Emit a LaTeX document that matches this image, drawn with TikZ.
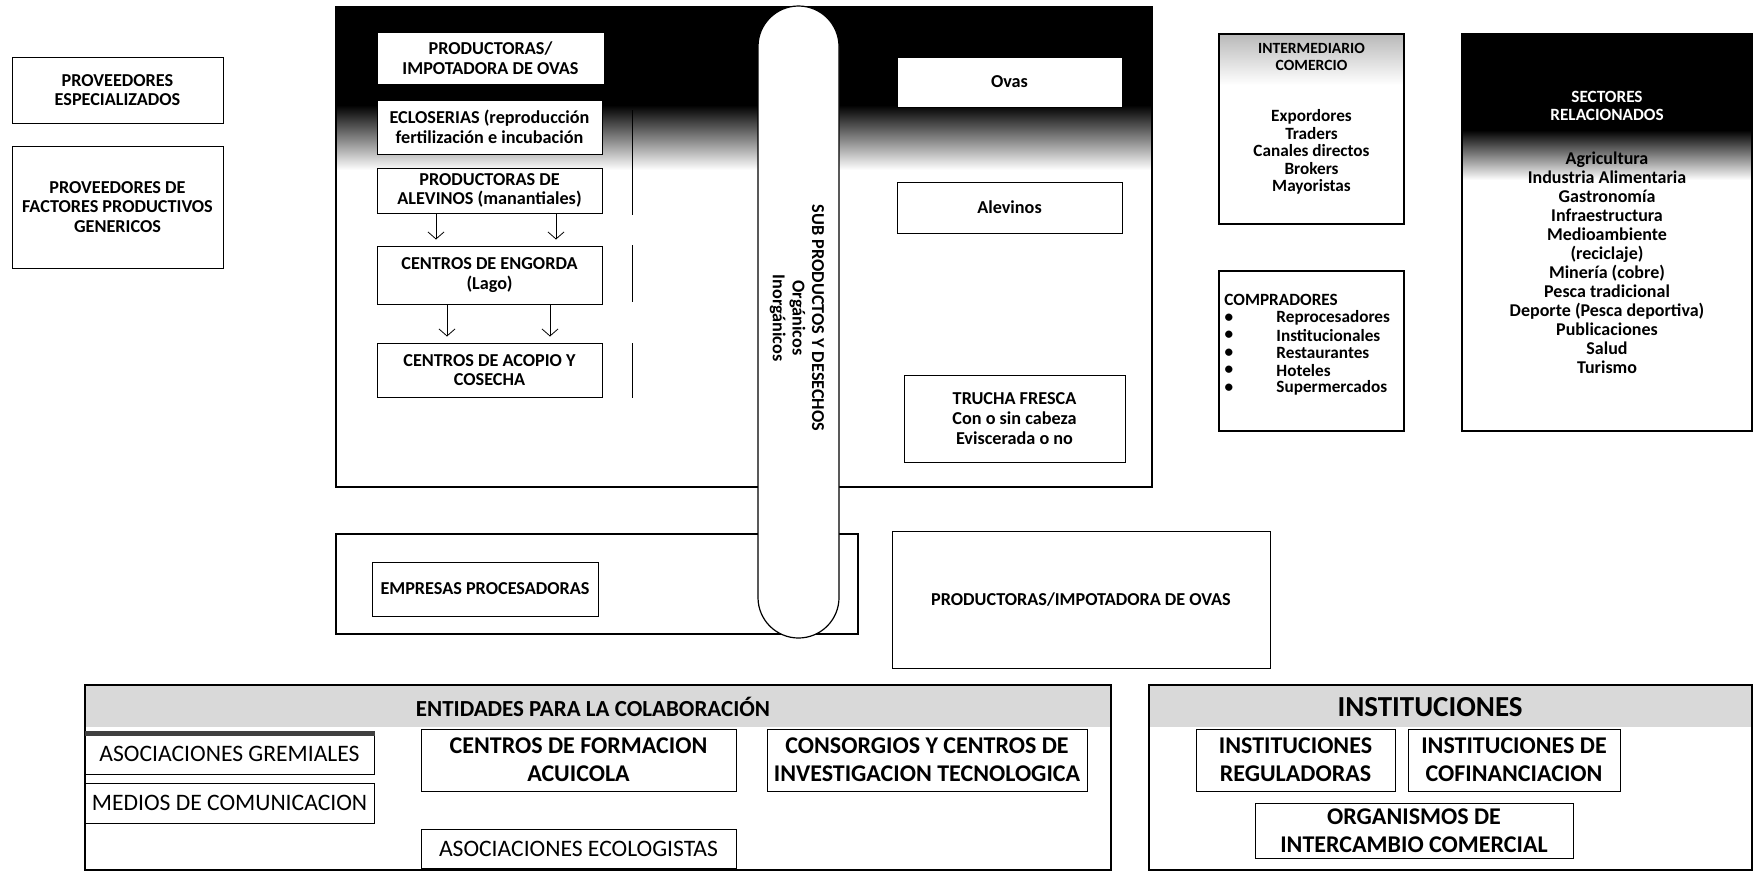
\documentclass[tikz,border=0pt]{standalone}
\usepackage{fontspec}
\setmainfont{Carlito}
\usetikzlibrary{arrows.meta}
\newcommand\fntT{\fontsize{9.1}{9.8}\selectfont\bfseries}
\newcommand\fntL{\fontsize{8.6}{8.75}\selectfont\bfseries}
\newcommand\fntI{\fontsize{7.8}{8.2}\selectfont\bfseries}
\newcommand\fntS{\fontsize{9}{9.5}\selectfont\bfseries}
\newcommand\fntB{\fontsize{12}{14}\selectfont\bfseries}
\newcommand\fntR{\fontsize{11.8}{14}\selectfont}
\newcommand\fntH{\fontsize{14.5}{16}\selectfont\bfseries}
\newcommand\fntE{\fontsize{11.5}{13}\selectfont\bfseries}
\begin{document}
\begin{tikzpicture}[x=0.5pt,y=-0.5pt,
  box/.style={draw, line width=0.5pt, fill=white, inner sep=0pt, align=center},
  frame/.style={draw, line width=0.6pt, inner sep=0pt},
  arr/.style={-{Straight Barb[length=3.5pt,width=8pt]}, line width=0.4pt, shorten >=3pt},
  lbl/.style={inner sep=0pt, align=center},
]
\useasboundingbox (0,0) rectangle (1754,874);
\fill[white] (0,0) rectangle (1754,874);

% proveedores
\node[box, font=\fntT, minimum width=105.5pt, minimum height=33pt] (pe) at (117.5,90) {PROVEEDORES\\ESPECIALIZADOS};
\node[box, font=\fntT, minimum width=105.5pt, minimum height=61pt] (pf) at (117.5,207) {PROVEEDORES DE\\FACTORES PRODUCTIVOS\\GENERICOS};

% main block
\fill[black] (336,7) rectangle (1152,105);
\shade[top color=black, bottom color=white] (336,105) rectangle (1152,170);
\node[frame, minimum width=408pt, minimum height=240pt] (main) at (744,247) {};

\node[box, font=\fntT, minimum width=113.5pt, minimum height=26pt] (povas) at (490.5,58) {PRODUCTORAS/\\IMPOTADORA DE OVAS};
\node[box, font=\fntT, minimum width=112.5pt, minimum height=27pt] (eclo) at (489.5,127) {ECLOSERIAS (reproducción\\fertilización e incubación};
\node[box, font=\fntT, minimum width=112.5pt, minimum height=22.5pt] (palev) at (489.5,190.5) {PRODUCTORAS DE\\ALEVINOS (manantiales)};
\node[box, font=\fntT, minimum width=112.5pt, minimum height=29pt] (eng) at (489.5,275) {CENTROS DE ENGORDA\\(Lago)};
\node[box, font=\fntT, minimum width=112.5pt, minimum height=27pt] (aco) at (489.5,370) {CENTROS DE ACOPIO Y\\COSECHA};

\draw[arr] (palev.south -| 436,0) -- (eng.north -| 436,0);
\draw[arr] (palev.south -| 556,0) -- (eng.north -| 556,0);
\draw[arr] (eng.south -| 447,0) -- (aco.north -| 447,0);
\draw[arr] (eng.south -| 550,0) -- (aco.north -| 550,0);

\draw[line width=0.5pt] (632,110) -- (632,215);
\draw[line width=0.5pt] (632,245) -- (632,302);
\draw[line width=0.5pt] (632,343) -- (632,398);

\node[box, font=\fntT, minimum width=112.5pt, minimum height=25pt] (ovas) at (1009.5,82) {Ovas};
\node[box, font=\fntT, minimum width=112.5pt, minimum height=25.5pt] (alev) at (1009.5,207.5) {Alevinos};
\node[box, font=\fntT, minimum width=110.5pt, minimum height=43.5pt] (tru) at (1014.5,418.5) {TRUCHA FRESCA\\Con o sin cabeza\\Eviscerada o no};

% procesadoras
\node[frame, minimum width=261pt, minimum height=50pt] (empo) at (597,584) {};
\node[box, font=\fntT, minimum width=113pt, minimum height=27pt] (emp) at (485,589) {EMPRESAS PROCESADORAS};

% capsule
\node[draw, line width=0.6pt, fill=white, rounded corners=20.25pt, minimum width=40.5pt, minimum height=316pt, inner sep=0pt] (caps) at (798.5,322) {};
\node[lbl, font=\fntT, rotate=-90] (capt) at (797,318) {SUB PRODUCTOS Y DESECHOS\\Orgánicos\\Inorgánicos};

\node[box, font=\fntT, minimum width=189pt, minimum height=68.5pt] (povb) at (1081,599.5) {PRODUCTORAS/IMPOTADORA DE OVAS};

% intermediario
\shade[top color=gray!55, bottom color=white] (1219,34) rectangle (1404,85);
\node[frame, minimum width=92.5pt, minimum height=95pt] (inter) at (1311.5,129) {};
\node[lbl, font=\fntI] (interh) at (1311.5,57) {INTERMEDIARIO\\COMERCIO};
\node[lbl, font=\fntL] (interl) at (1311.5,152) {Expordores\\Traders\\Canales directos\\Brokers\\Mayoristas};

% compradores
\node[frame, minimum width=92.5pt, minimum height=80pt] (comp) at (1311.5,351) {};
\node[lbl, font=\fntL, anchor=west] (comph) at (1224,300) {COMPRADORES};
\foreach \yy/\tt [count=\i] in {318/Reprocesadores,335.5/Institucionales,353/Restaurantes,370.5/Hoteles,388/Supermercados}{
  \node[lbl, font=\fntL] (cb\i) at (1229,\yy) {\textbullet};
  \node[lbl, font=\fntL, anchor=west] (ci\i) at (1276,\yy) {\tt};
}

% sectores
\fill[black] (1462,34) rectangle (1752,130);
\shade[top color=black, bottom color=white] (1462,130) rectangle (1752,180);
\node[frame, minimum width=145pt, minimum height=198.5pt] (sect) at (1607,232.5) {};
\node[lbl, font=\fntL, text=white] (secth) at (1607,106) {SECTORES\\RELACIONADOS};
\node[lbl, font=\fntS] (sectl) at (1607,262.5) {Agricultura\\Industria Alimentaria\\Gastronomía\\Infraestructura\\Medioambiente\\(reciclaje)\\Minería (cobre)\\Pesca tradicional\\Deporte (Pesca deportiva)\\Publicaciones\\Salud\\Turismo};

% entidades
\fill[gray!30] (85,685) rectangle (1111,727);
\node[frame, minimum width=513pt, minimum height=92.5pt] (ent) at (598,777.5) {};
\node[lbl, font=\fntE] (enth) at (593,707) {ENTIDADES PARA LA COLABORACIÓN};
\node[box, font=\fntR, minimum width=144.5pt, minimum height=20pt] (grem) at (229.5,754) {ASOCIACIONES GREMIALES};
\draw[line width=2.5pt, gray!50!black] (grem.north west) -- (grem.north east);
\node[box, font=\fntR, minimum width=144.5pt, minimum height=20pt] (med) at (229.5,803) {MEDIOS DE COMUNICACION};
\node[box, font=\fntB, minimum width=157.5pt, minimum height=31pt] (form) at (578.5,760) {CENTROS DE FORMACION\\ACUICOLA};
\node[box, font=\fntB, minimum width=160pt, minimum height=31pt] (cons) at (927,760) {CONSORGIOS Y CENTROS DE\\INVESTIGACION TECNOLOGICA};
\node[box, font=\fntR, minimum width=157.5pt, minimum height=19.5pt] (eco) at (578.5,848.5) {ASOCIACIONES ECOLOGISTAS};

% instituciones
\fill[gray!30] (1149,685) rectangle (1752,727);
\node[frame, minimum width=301.5pt, minimum height=92.5pt] (inst) at (1450.5,777.5) {};
\node[lbl, font=\fntH] (insth) at (1430,707) {INSTITUCIONES};
\node[box, font=\fntB, minimum width=99.5pt, minimum height=31pt] (reg) at (1295.5,760) {INSTITUCIONES\\REGULADORAS};
\node[box, font=\fntB, minimum width=106pt, minimum height=31pt] (cof) at (1514,760) {INSTITUCIONES DE\\COFINANCIACION};
\node[box, font=\fntB, minimum width=159pt, minimum height=27.5pt] (org) at (1414,830.5) {ORGANISMOS DE\\INTERCAMBIO COMERCIAL};
\end{tikzpicture}
\end{document}
